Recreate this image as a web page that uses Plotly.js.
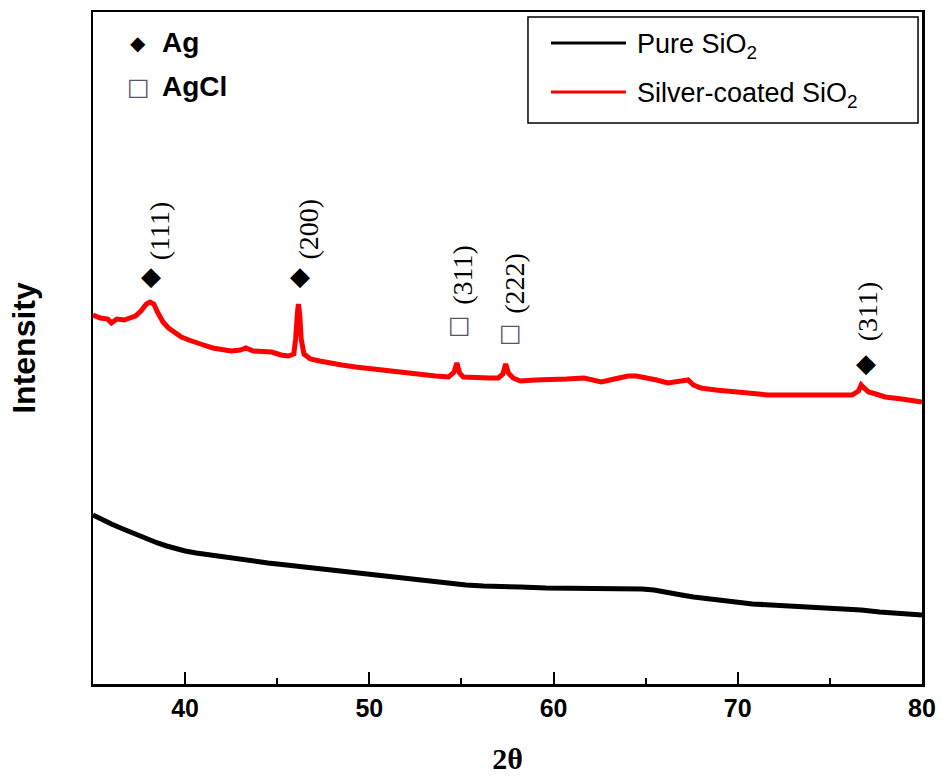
<!DOCTYPE html>
<html>
<head>
<meta charset="utf-8">
<script src="https://cdn.plot.ly/plotly-3.0.1.min.js"></script>
<style>html,body{margin:0;padding:0;background:#fff;}#chart{width:942px;height:779px;}</style>
</head>
<body>
<div id="chart"></div>
<script>
// ---- data (2θ in degrees, intensity in arbitrary units) ----
const twoThetaPure = [35.0, 35.5, 36.0, 36.5, 37.0, 37.5, 38.0, 38.5, 39.0, 39.5, 40.0, 40.6, 41.3, 42.1, 42.8, 43.55, 44.5, 45.5, 46.45, 47.5, 48.4, 49.35, 50.3, 51.3, 52.3, 53.3, 54.3, 55.25, 56.2, 57.2, 58.2, 59.6, 61.1, 62.5, 64.0, 64.8, 65.45, 66.2, 66.95, 67.6, 68.4, 69.1, 69.85, 70.8, 71.8, 72.8, 73.8, 74.7, 75.7, 76.7, 77.7, 78.65, 79.3, 80.0];
const intensityPure = [169, 164, 160, 156, 152, 148, 145, 141, 138, 135, 133, 131, 129, 127, 125, 123, 121, 119, 117, 115, 113, 111, 109, 107, 104, 102, 100, 99, 98, 97, 97, 96, 96, 96, 96, 95, 94, 92, 89, 87, 85, 83, 82, 80, 79, 78, 77, 77, 76, 74, 72, 71, 70, 69];

const twoThetaAg = [35.0, 35.4, 35.8, 36.0, 36.3, 36.7, 37.0, 37.3, 37.6, 37.9, 38.1, 38.3, 38.5, 38.8, 39.1, 39.5, 39.8, 40.2, 40.6, 41.0, 41.5, 42.0, 42.5, 43.0, 43.3, 43.7, 44.2, 44.7, 45.2, 45.6, 45.9, 46.0, 46.1, 46.15, 46.22, 46.3, 46.45, 46.8, 47.3, 47.8, 48.5, 49.25, 50.1, 51.05, 52.0, 52.85, 53.6, 54.3, 54.6, 54.75, 54.9, 55.1, 55.8, 56.5, 57.0, 57.25, 57.4, 57.55, 57.8, 58.2, 59.0, 59.85, 60.7, 61.65, 62.2, 62.6, 63.3, 64.05, 64.5, 64.9, 65.6, 66.2, 66.8, 67.3, 67.6, 68.0, 68.8, 69.8, 70.7, 71.65, 72.5, 73.45, 74.3, 75.25, 76.2, 76.55, 76.7, 76.85, 77.1, 77.5, 78.0, 78.9, 79.5, 80.0];
const intensityAg = [369, 366, 365, 361, 365, 364, 366, 368, 373, 380, 382, 380, 372, 362, 356, 350, 347, 344, 341, 339, 336, 335, 333, 334, 336, 333, 333, 332, 329, 328, 330, 345, 372, 380, 370, 345, 330, 325, 323, 321, 319, 317, 315, 313, 311, 309, 308, 307, 312, 321, 311, 307, 306, 306, 306, 310, 320, 311, 306, 303, 304, 304, 305, 306, 304, 302, 305, 308, 308, 307, 304, 301, 302, 304, 299, 296, 294, 292, 290, 289, 289, 289, 289, 289, 289, 293, 299, 296, 292, 290, 287, 285, 284, 282];

const seriesNames = ["Pure SiO<sub>2</sub>", "Silver-coated SiO<sub>2</sub>"];
const xTickValues = [40, 50, 60, 70, 80];

// peak labels: symbol, hkl and where they sit (2θ, intensity units)
const peakSymbols = ["◆", "◆", "□", "□", "◆"];
const peakHkl = ["(111)", "(200)", "(311)", "(222)", "(311)"];
const peakSymX = [38.17, 46.21, 54.91, 57.68, 76.98];
const peakSymY = [408, 408, 359, 351, 321];
const peakTxtX = [38.60, 46.65, 55.02, 57.84, 77.03];
const peakTxtY = [453, 455, 409, 401, 373];

const phaseSymbols = ["◆", "□"];
const phaseNames = ["Ag", "AgCl"];

const traces = [
  {x: twoThetaPure, y: intensityPure, mode: "lines", name: seriesNames[0], line: {color: "#000000", width: 5}, showlegend: false, hoverinfo: "x+y"},
  {x: twoThetaAg, y: intensityAg, mode: "lines", name: seriesNames[1], line: {color: "#ff0000", width: 5}, showlegend: false, hoverinfo: "x+y"}
];

const annotations = [];
for (let i = 0; i < peakHkl.length; i++) {
  const isBox = peakSymbols[i] === "□";
  annotations.push({x: peakSymX[i], y: peakSymY[i], xref: "x", yref: "y", text: peakSymbols[i], showarrow: false,
    font: {family: "DejaVu Sans", size: isBox ? 24 : 26, color: isBox ? "#5a5070" : "#000"}, xanchor: "center", yanchor: "middle"});
  annotations.push({x: peakTxtX[i], y: peakTxtY[i], xref: "x", yref: "y", text: peakHkl[i], showarrow: false,
    textangle: -90, font: {family: "Liberation Serif", size: 28, color: "#000"}, xanchor: "center", yanchor: "middle"});
}
// phase key, top-left
const phaseY = [0.9539, 0.8884];
for (let i = 0; i < phaseNames.length; i++) {
  annotations.push({x: 0.0543, y: phaseY[i], xref: "paper", yref: "paper", text: phaseSymbols[i], showarrow: false,
    font: {family: "DejaVu Sans", size: i === 0 ? 20 : 24, color: i === 0 ? "#000" : "#5a5070"}, xanchor: "center", yanchor: "middle"});
  annotations.push({x: 0.0808, y: phaseY[i], xref: "paper", yref: "paper", text: phaseNames[i], showarrow: false,
    font: {family: "Liberation Sans", size: 28, weight: "bold", color: "#000"}, xanchor: "left", yanchor: "middle"});
}
// series key, top-right
const keyY = [0.9539, 0.8810];
const keyColors = ["#000000", "#ff0000"];
const shapes = [
  {type: "rect", xref: "paper", yref: "paper", x0: 0.5247, x1: 0.9952, y0: 0.8348, y1: 0.9926, line: {color: "#000", width: 1.5}, fillcolor: "rgba(0,0,0,0)"}
];
for (let i = 0; i < seriesNames.length; i++) {
  shapes.push({type: "line", xref: "paper", yref: "paper", x0: 0.5525, x1: 0.6429, y0: keyY[i], y1: keyY[i], line: {color: keyColors[i], width: 3}});
  annotations.push({x: 0.6538, y: keyY[i] - 0.004, xref: "paper", yref: "paper", text: seriesNames[i], showarrow: false,
    font: {family: "Liberation Sans", size: 27, color: "#000"}, xanchor: "left", yanchor: "middle"});
}

const layout = {
  width: 942, height: 779,
  margin: {l: 93, r: 20, t: 12, b: 95},
  paper_bgcolor: "#fff", plot_bgcolor: "#fff",
  xaxis: {
    range: [35, 80], tickvals: xTickValues, ticks: "inside", ticklen: 12, tickwidth: 2, tickcolor: "#000",
    minor: {ticks: "inside", dtick: 5, tick0: 35, ticklen: 6, tickwidth: 2, tickcolor: "#000"},
    showline: true, linewidth: 2.5, linecolor: "#000", mirror: true, showgrid: false, zeroline: false,
    tickfont: {family: "Liberation Sans", size: 25, weight: "bold", color: "#000"},
    title: {text: "2θ", font: {family: "Liberation Serif", size: 30, weight: "bold", color: "#000"}, standoff: 28}
  },
  yaxis: {
    range: [0, 672], showticklabels: false, ticks: "", showline: true, linewidth: 2.5, linecolor: "#000", mirror: true,
    showgrid: false, zeroline: false,
    title: {text: "Intensity", font: {family: "Liberation Sans", size: 32, weight: "bold", color: "#000"}, standoff: 46}
  },
  annotations: annotations,
  shapes: shapes,
  showlegend: false
};

Plotly.newPlot("chart", traces, layout, {displayModeBar: false, staticPlot: true});
</script>
</body>
</html>
